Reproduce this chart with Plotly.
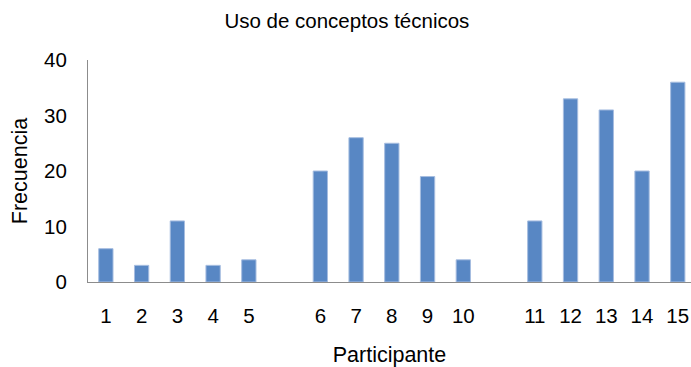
import plotly.graph_objects as go

# Participants are shown in three groups of five, with an empty slot between groups
participantes = ["1", "2", "3", "4", "5", "6", "7", "8", "9", "10",
                 "11", "12", "13", "14", "15"]
frecuencia = [6, 3, 11, 3, 4, 20, 26, 25, 19, 4, 11, 33, 31, 20, 36]
y_ticks = [0, 10, 20, 30, 40]

GROUP = 5
x_pos = [i + i // GROUP for i in range(len(participantes))]

FONT = "Liberation Sans, Arial, sans-serif"
AXIS_GRAY = "#8c8c8c"

fig = go.Figure(
    go.Bar(
        x=x_pos,
        y=frecuencia,
        width=0.4,
        marker=dict(color="#5887c4", line=dict(color="#a6bde0", width=1)),
        hoverinfo="y",
    )
)

fig.update_layout(
    width=691,
    height=367,
    margin=dict(l=88, r=0, t=60, b=85),
    paper_bgcolor="white",
    plot_bgcolor="white",
    showlegend=False,
    font=dict(family=FONT, color="#000000"),
    title=dict(
        text="Uso de conceptos técnicos",
        x=0.502,
        xanchor="center",
        y=0.943,
        yanchor="middle",
        font=dict(family=FONT, size=20.5, color="#000000"),
    ),
)

fig.update_xaxes(
    range=[-0.5, 16.37],
    tickmode="array",
    tickvals=x_pos,
    ticktext=participantes,
    showgrid=False,
    zeroline=False,
    showline=True,
    linecolor=AXIS_GRAY,
    linewidth=1,
    ticks="",
    ticklabelstandoff=15,
    tickfont=dict(family=FONT, size=20.5),
    automargin=False,
    title=dict(text="Participante", font=dict(family=FONT, size=21.5), standoff=27),
)

fig.update_yaxes(
    range=[0, 40],
    tickmode="array",
    tickvals=y_ticks,
    showgrid=False,
    zeroline=False,
    showline=True,
    linecolor=AXIS_GRAY,
    linewidth=1,
    ticks="",
    ticklabelstandoff=16,
    tickfont=dict(family=FONT, size=20.5),
    title=dict(text="Frecuencia", font=dict(family=FONT, size=21.5), standoff=10),
)

fig.write_html("out.html")
